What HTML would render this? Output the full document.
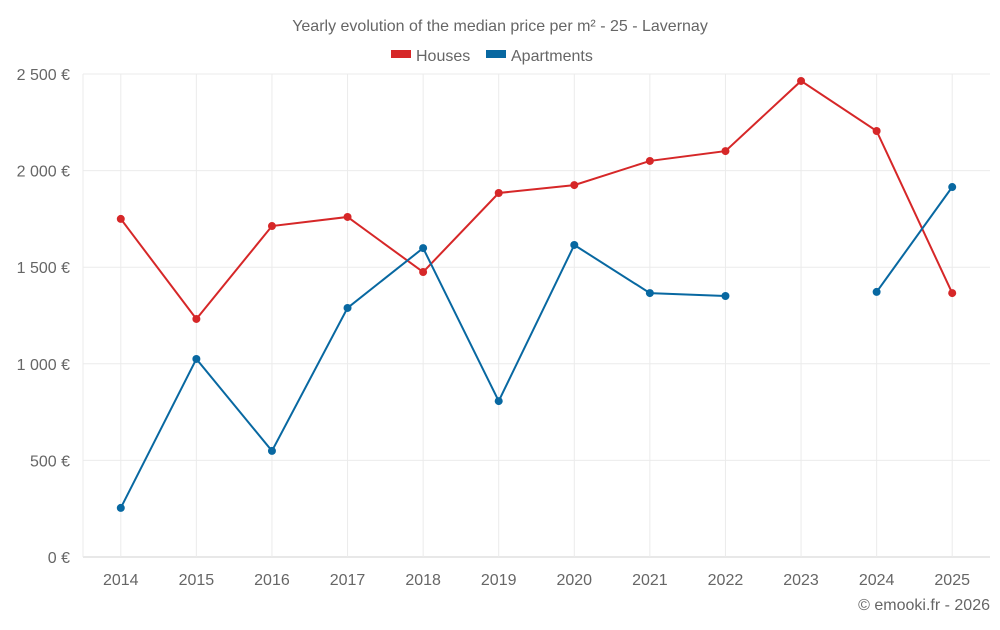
<!DOCTYPE html>
<html><head><meta charset="utf-8"><style>
body{margin:0;background:#fff;font-family:"Liberation Sans",sans-serif;}
svg text{font-family:"Liberation Sans",sans-serif;fill:#666;}
</style></head><body>
<svg id="chart" width="1000" height="625">
<text x="500" y="31" text-anchor="middle" font-size="16">Yearly evolution of the median price per m² - 25 - Lavernay</text>
<g>
<rect x="391" y="50" width="20" height="8" fill="#d62728"/>
<text x="416" y="61" font-size="16">Houses</text>
<rect x="486" y="50" width="20" height="8" fill="#0868a1"/>
<text x="511" y="61" font-size="16">Apartments</text>
</g>
<g id="grid"></g><g id="axes"></g><g id="series"></g>
<text x="990" y="610" text-anchor="end" font-size="16">© emooki.fr - 2026</text>
</svg>
<script>
const years=["2014","2015","2016","2017","2018","2019","2020","2021","2022","2023","2024","2025"];
const houses=[1750,1232,1713,1760,1475,1884,1925,2050,2101,2464,2205,1366];
const apartments=[254,1025,549,1289,1599,807,1615,1366,1351,null,1372,1915];
const yTicks=[0,500,1000,1500,2000,2500];
const yTickLabels=["0 €","500 €","1 000 €","1 500 €","2 000 €","2 500 €"];
const L=83,R=990,T=74,B=557,ymax=2500;
const step=(R-L)/years.length;
const x=i=>L+step*(i+0.5);
const y=v=>B-(v/ymax)*(B-T);
const NS="http://www.w3.org/2000/svg";
function mk(t,a,p){const e=document.createElementNS(NS,t);for(const k in a)e.setAttribute(k,a[k]);p.appendChild(e);return e;}
const grid=document.getElementById('grid'),axes=document.getElementById('axes'),ser=document.getElementById('series');
yTicks.forEach((v,i)=>{
 const l=mk('line',{x1:L,x2:R,y1:y(v),y2:y(v),stroke:v===0?'#d0d0d0':'#ebebeb'},grid);
 
 
 const t=mk('text',{x:70,y:y(v)+6,'text-anchor':'end','font-size':16},axes);
 t.textContent=yTickLabels[i];
 
 
});
const ax=mk('line',{x1:L,x2:L,y1:T,y2:B,stroke:'#ebebeb'},grid);


years.forEach((yr,i)=>{
 const l=mk('line',{x1:x(i),x2:x(i),y1:T,y2:B,stroke:'#ebebeb'},grid);
 
 
 const t=mk('text',{x:x(i),y:B+28,'text-anchor':'middle','font-size':16},axes);
 t.textContent=yr;
 
 
});
function draw(data,color,name){
 let segs=[],cur=[];
 data.forEach((v,i)=>{if(v==null){if(cur.length)segs.push(cur);cur=[];}else cur.push([x(i),y(v)]);});
 if(cur.length)segs.push(cur);
 segs.forEach(s=>{
  const p=mk('polyline',{points:s.map(q=>q.join(',')).join(' '),fill:'none',stroke:color,'stroke-width':2},ser);
  
  
 });
 data.forEach((v,i)=>{if(v==null)return;
  const c=mk('circle',{cx:x(i),cy:y(v),r:4,fill:color},ser);
  
  
 });
}
draw(houses,'#d62728','houses');
draw(apartments,'#0868a1','apartments');
</script>
</body></html>
